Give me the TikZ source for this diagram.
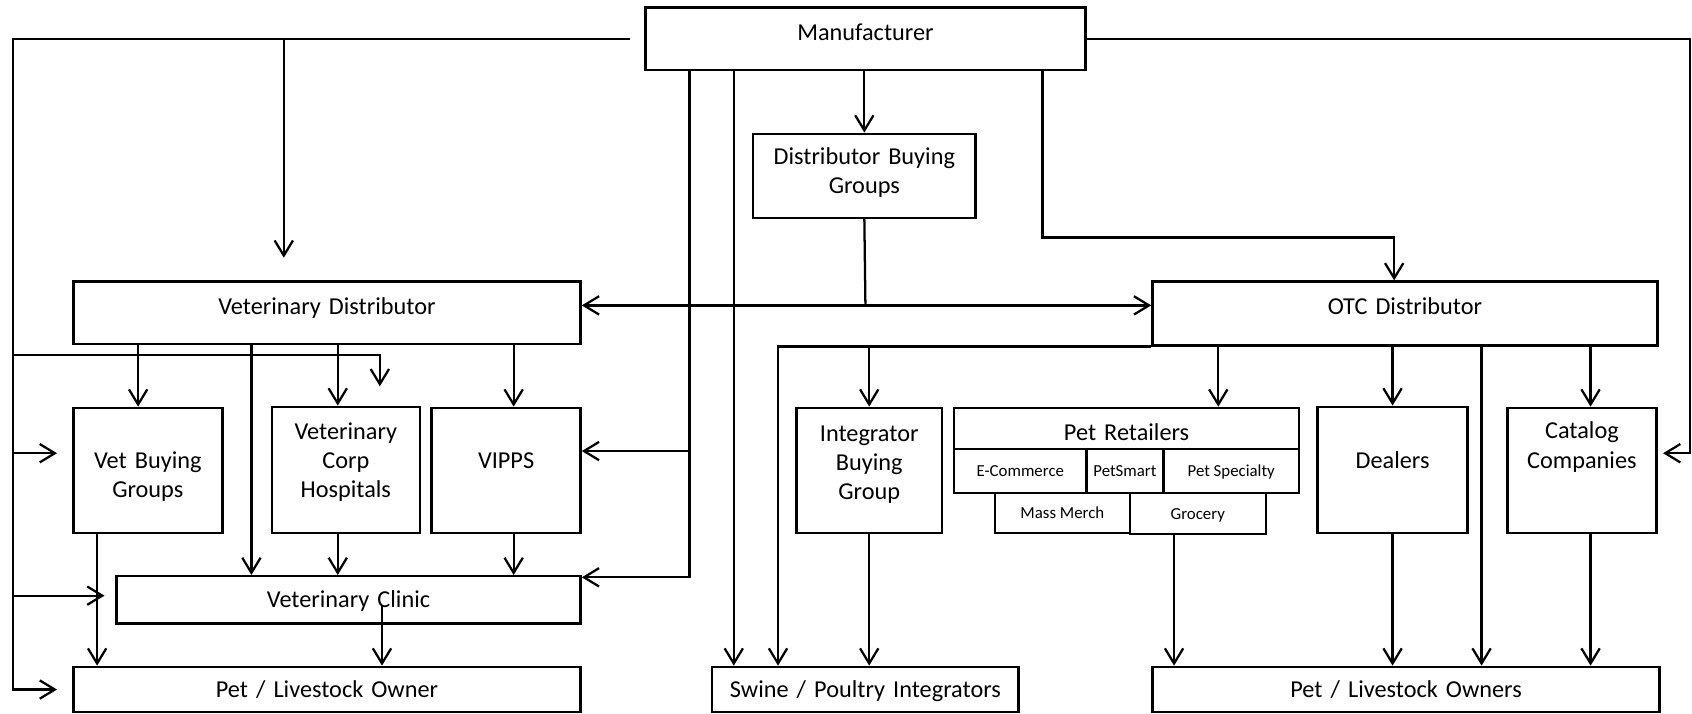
\documentclass[tikz,border=0pt]{standalone}
\usepackage{fontspec}
\setmainfont{Carlito}
\usetikzlibrary{arrows.meta}

\begin{document}
\begin{tikzpicture}[x=1pt,y=-1pt,
  >={Straight Barb[length=14pt,width=17pt]},
  box/.style={draw, line width=2.3pt, inner sep=0pt, align=center,
    font=\fontsize{22.5pt}{27pt}\selectfont, text height=16pt},
  cell/.style={draw, line width=2.3pt, inner sep=0pt, align=center,
    font=\fontsize{15.6pt}{19pt}\selectfont, text height=11pt, text depth=1pt},
  wire/.style={line width=2.1pt},
  feed/.style={wire, ->}]
\fill[white] (0,0) rectangle (1568,661);
\useasboundingbox (0,0) rectangle (1568,661);

% boxes
\node[box, minimum width=408pt, minimum height=58pt, text width=400pt, text depth=13.5pt] (mfr) at (802,36) {Manufacturer};
\node[box, minimum width=206pt, minimum height=78pt, text width=198pt, text depth=36.5pt] (dbg) at (801,163) {Distributor Buying\\Groups};
\node[box, minimum width=470pt, minimum height=58pt, text width=462pt, text depth=13.5pt] (vd) at (303,290) {Veterinary Distributor};
\node[box, minimum width=468pt, minimum height=59pt, text width=460pt, text depth=14.5pt] (otc) at (1302,290.5) {OTC Distributor};
\node[box, minimum width=138pt, minimum height=116pt, text width=130pt, text depth=20.5pt] (vbg) at (137,436) {Vet Buying\\Groups};
\node[box, minimum width=137pt, minimum height=117pt, text width=129pt, text depth=72.5pt] (vch) at (320.5,435.5) {Veterinary\\Corp\\Hospitals};
\node[box, minimum width=138pt, minimum height=116pt, text width=130pt, text depth=19.5pt] (vipps) at (469,436) {VIPPS};
\node[box, minimum width=430pt, minimum height=44pt, text width=422pt, text depth=1.5pt] (vc) at (323,556) {Veterinary Clinic};
\node[box, minimum width=470pt, minimum height=42pt, text width=462pt, text depth=1.5pt] (plo) at (303,639) {Pet / Livestock Owner};
\node[box, minimum width=135pt, minimum height=116pt, text width=127pt, text depth=69.5pt] (ibg) at (805.5,436) {Integrator\\Buying\\Group};
\node[box, minimum width=320pt, minimum height=38pt, text width=312pt, text height=24pt, text depth=1.5pt] (prt) at (1044,397) {Pet Retailers};
\node[cell, minimum width=123pt, minimum height=41pt] (ecom) at (945.5,436.5) {E-Commerce};
\node[cell, minimum width=71pt, minimum height=41pt] (psm) at (1042.5,436.5) {PetSmart};
\node[cell, minimum width=126pt, minimum height=41pt] (pspec) at (1141,436.5) {Pet Specialty};
\node[cell, minimum width=125pt, minimum height=37pt] (mass) at (984.5,475.5) {Mass Merch};
\node[cell, minimum width=126pt, minimum height=38pt] (groc) at (1110,476) {Grocery};
\node[box, minimum width=139pt, minimum height=117pt, text width=131pt, text depth=18.5pt] (dlr) at (1290.5,435.5) {Dealers};
\node[box, minimum width=138pt, minimum height=116pt, text width=130pt, text depth=74.5pt] (cat) at (1466,436) {Catalog\\Companies};
\node[box, minimum width=284pt, minimum height=42pt, text width=276pt, text depth=1.5pt] (spi) at (802,639) {Swine / Poultry Integrators};
\node[box, minimum width=470pt, minimum height=42pt, text width=462pt, text depth=1.5pt] (plos) at (1303,639) {Pet / Livestock Owners};

% bends and rails
\coordinate (rl) at (12,36);
\coordinate (rr) at (1566,36);
\coordinate (hub) at (802,283);
\coordinate (hook) at (352,358);
\coordinate (bend) at (1292,220);
\coordinate (drop) at (639,535);
\coordinate (otcl) at (721,319);

% left rail
\draw[feed, shorten <=13pt, shorten >=14pt] (mfr.west) -- (rl) |- (plo.west);
\draw[feed, shorten >=21pt] (rl -| 263,0) -- (vd.north -| 263,0);
\draw[feed] (rl |- 0,329) -| (hook);
\draw[feed, shorten >=14pt] (rl |- 0,420) -- (vbg.west |- 0,420);
\draw[feed, shorten >=10pt] (rl |- 0,552) -- (vc.west |- 0,552);
% right rail
\draw[feed, shorten >=5pt] (mfr.east) -- (rr) |- (cat.east |- 0,420);
% buying groups and the two distributors
\draw[feed] (mfr.south -| dbg.north) -- (dbg.north);
\draw[wire] (dbg.south) -- (hub);
\draw[wire, <->] (vd.east |- hub) -- (otc.west |- hub);
\draw[feed] (mfr.south -| 966,0) |- (bend) -- (otc.north -| bend);
% manufacturer drops
\draw[feed] (mfr.south -| drop) -- (drop) -- (drop -| vc.east);
\draw[feed] (drop |- 0,418) -- (vipps.east |- 0,418);
\draw[feed] (mfr.south -| 680,0) -- (spi.north -| 680,0);
% veterinary side
\draw[feed] (vd.south -| 128,0) -- (vbg.north -| 128,0);
\draw[feed] (vd.south -| 233,0) -- (vc.north -| 233,0);
\draw[feed] (vd.south -| 313,0) -- (vch.north -| 313,0);
\draw[feed] (vd.south -| 476,0) -- (vipps.north -| 476,0);
\draw[feed] (vbg.south -| 90,0) -- (plo.north -| 90,0);
\draw[feed] (vch.south -| 313,0) -- (vc.north -| 313,0);
\draw[feed] (vipps.south -| 476,0) -- (vc.north -| 476,0);
\draw[feed] ([yshift=-5pt]vc.center -| 354,0) -- (plo.north -| 354,0);
% OTC side
\draw[feed] (otc.south west) -| (spi.north -| otcl);
\draw[feed] (otc.south west -| ibg.north) -- (ibg.north);
\draw[feed] (otc.south -| 1129,0) -- (prt.north -| 1129,0);
\draw[feed] (otc.south -| dlr.north) -- (dlr.north);
\draw[feed] (otc.south -| 1373,0) -- (plos.north -| 1373,0);
\draw[feed] (otc.south -| 1474,0) -- (cat.north -| 1474,0);
\draw[feed] (ibg.south) -- (spi.north -| ibg.south);
\draw[feed] (groc.south -| 1088,0) -- (plos.north -| 1088,0);
\draw[feed] (dlr.south) -- (plos.north -| dlr.south);
\draw[feed] (cat.south -| 1474,0) -- (plos.north -| 1474,0);
\end{tikzpicture}
\end{document}
